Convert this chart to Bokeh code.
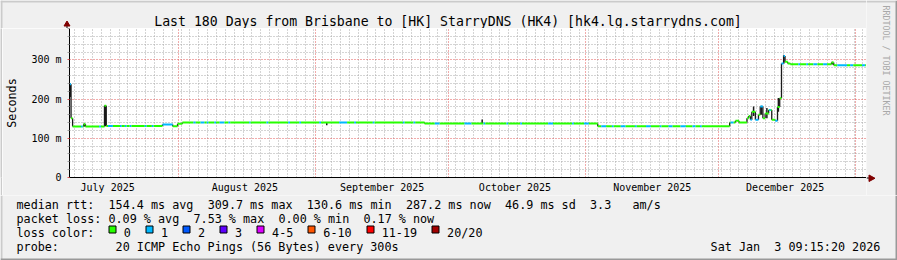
import math
import re
import numpy as np
import pandas as pd
from bokeh.plotting import figure
from bokeh.layouts import row, column
from bokeh.models import Range1d, FixedTicker
from bokeh.core.properties import value
from bokeh.embed import file_html
from bokeh.resources import INLINE

# ---------------- data ----------------
window_start = "2025-07-07 09:15:20"   # left edge of the 180-day window
window_days = 180
data_end_day = 179.9

# median RTT step levels: day offset where each level starts, level in ms
median_start_day = [0.0, 0.35, 0.7, 3.2, 3.6, 7.9, 8.3, 21.0, 23.3, 24.4, 25.5, 80.2,
                    119.3, 149.1, 150.4, 151.2, 153.0, 153.4, 153.8, 154.1, 154.9,
                    155.6, 156.0, 156.6, 157.1, 157.9, 158.6, 159.4, 159.9, 160.4,
                    160.8, 161.3, 161.6, 162.2, 162.8, 172.1, 172.6]
median_rtt_ms = [238, 151, 130, 136, 130, 183, 131.5, 135, 131, 137, 140, 137.5,
                 131, 140, 145, 140, 151, 157, 147, 168, 147,
                 160, 181, 151, 163, 172, 147, 145, 180, 202,
                 291, 310, 295, 291, 289, 293, 286.5]

# periods where 1 of 20 pings was lost (drawn in the "1" loss colour)
loss1_start_day = [0.0, 2.6, 6.7, 8.7, 11.4, 12.5, 13.6, 17.0, 18.6, 21.0, 28.0, 29.6,
                   31.0, 32.7, 33.9, 35.9, 40.6, 44.5, 49.4, 51.9, 56.4, 60.9, 64.3,
                   68.5, 75.3, 77.7, 82.5, 89.2, 93.5, 98.7, 101.8, 108.1, 113.5,
                   116.2, 120.1, 122.5, 124.5, 127.7, 130.2, 133.3, 135.3, 138.0,
                   140.7, 142.4, 149.3, 153.8, 154.9, 156.0, 158.0, 159.4, 160.8,
                   164.6, 166.4, 168.0, 170.2, 173.4, 176.3, 179.0]
loss1_end_day = [0.35, 3.0, 7.1, 9.8, 11.8, 12.9, 14.0, 17.4, 19.0, 23.3, 28.5, 30.5,
                 31.4, 33.1, 35.0, 36.3, 40.9, 44.9, 49.8, 52.3, 56.8, 62.7, 64.7,
                 68.9, 75.7, 78.1, 83.6, 90.8, 93.9, 99.1, 102.2, 109.2, 113.9,
                 117.3, 121.2, 122.9, 125.6, 128.1, 131.3, 133.7, 136.2, 139.2,
                 141.4, 142.8, 150.0, 154.1, 155.6, 156.6, 158.4, 159.9, 161.6,
                 165.0, 166.8, 168.9, 171.1, 175.6, 177.0, 179.7]

# smoke (spread of the 20 pings) where it shows beyond the median line
smoke_day = [0.17, 3.4, 8.1, 58.1, 93.2, 154.5, 156.3, 157.5, 160.1, 161.3, 172.3]
smoke_lo_ms = [205, 130, 131, 133, 137, 157, 160, 151, 168, 291, 288]
smoke_hi_ms = [240, 138, 185, 141, 148, 181, 183, 177, 203, 312, 295]

month_starts = ["2025-08-01", "2025-09-01", "2025-10-01", "2025-11-01",
                "2025-12-01", "2026-01-01"]
month_label_dates = ["2025-07-16", "2025-08-16", "2025-09-16", "2025-10-16",
                     "2025-11-16", "2025-12-16"]
month_labels = ["July 2025", "August 2025", "September 2025", "October 2025",
                "November 2025", "December 2025"]

y_ticks = [0, 100, 200, 300]
y_tick_labels = ["0", "100 m", "200 m", "300 m"]

title_text = "Last 180 Days from Brisbane to [HK] StarryDNS (HK4) [hk4.lg.starrydns.com]"
legend_median = "median rtt:  154.4 ms avg  309.7 ms max  130.6 ms min  287.2 ms now  46.9 ms sd  3.3   am/s"
legend_loss = "packet loss: 0.09 % avg  7.53 % max  0.00 % min  0.17 % now"
legend_color_title = "loss color:"
loss_labels = ["0", "1", "2", "3", "4-5", "6-10", "11-19", "20/20"]
loss_colors = ["#26ff00", "#00b8ff", "#0059ff", "#5e00ff", "#dd00ff", "#ff5500",
               "#ff0000", "#a00000"]
probe_text = "probe:        20 ICMP Echo Pings (56 Bytes) every 300s"
stamp_text = "Sat Jan  3 09:15:20 2026"
watermark_text = "RRDTOOL / TOBI OETIKER"

# ---------------- helpers ----------------
t0 = pd.Timestamp(window_start)


def to_ms(day):
    return (t0 + pd.to_timedelta(float(day), unit="D")).value / 1e6


def date_ms(s):
    return pd.Timestamp(s).value / 1e6


FONT = "DejaVu Sans Mono"
BACK = "#f0f0f0"
SHADE_A = "#cbcbcb"
SHADE_B = "#999999"
ARROW = "#800000"
LEG_SIZE = 11.76
ADV = 7.08                 # advance of one monospace character at LEG_SIZE


def deco_fig(x0, x1, y0, y1):
    """A plain canvas piece whose coordinates are the page pixels it covers."""
    f = figure(width=x1 - x0, height=y1 - y0, x_range=Range1d(x0, x1),
               y_range=Range1d(y1, y0), output_backend="svg", toolbar_location=None,
               x_axis_location=None, y_axis_location=None,
               min_border=0, min_border_left=0, min_border_right=0,
               min_border_top=0, min_border_bottom=0)
    f.grid.visible = False
    f.background_fill_color = BACK
    f.border_fill_color = BACK
    f.outline_line_color = None
    return f


def put_text(f, xs, ys, texts, size, align="left", color="black", angle=0.0,
             baseline="alphabetic"):
    f.text(x=xs, y=ys, text=texts, text_font=value(FONT),
           text_font_size=value(f"{size}px"), text_color=color, text_align=align,
           text_baseline=baseline, angle=angle)


def mono_line(f, s, x0, y):
    """Lay a monospace legend line out piece by piece so runs of spaces survive."""
    xs, toks = [], []
    for m in re.finditer(r"\S+(?: \S+)*", s):
        toks.append(m.group())
        xs.append(x0 + m.start() * ADV)
    put_text(f, xs, [y] * len(xs), toks, LEG_SIZE)


# ---------------- head strip: title + y-axis arrow ----------------
head = deco_fig(0, 866, 0, 28)
head.quad(left=[0, 0], right=[866, 2], top=[0, 0], bottom=[2, 28],
          fill_color=SHADE_A, line_color=None)
put_text(head, [447.5], [21], [title_text], 13.2, align="center")
head.segment(x0=[66.5], y0=[25], x1=[66.5], y1=[28], line_color="black", line_width=1)
head.patch(x=[63.5, 69.5, 66.5], y=[25.5, 25.5, 20.5], fill_color=ARROW,
           line_color=ARROW, line_width=1)

# ---------------- left bevel next to the main plot ----------------
lbev = figure(width=2, height=167, output_backend="svg", toolbar_location=None,
              x_axis_location=None, y_axis_location=None, min_border=0,
              min_border_left=0, min_border_right=0, min_border_top=0,
              min_border_bottom=0)
lbev.grid.visible = False
lbev.background_fill_color = SHADE_A
lbev.border_fill_color = SHADE_A
lbev.outline_line_color = None

# ---------------- main plot ----------------
p = figure(width=864, height=167, x_axis_type="datetime",
           x_range=Range1d(to_ms(0), to_ms(window_days)), y_range=Range1d(0, 380),
           output_backend="svg", toolbar_location=None,
           min_border_left=64, min_border_right=0, min_border_top=0,
           min_border_bottom=17)
p.background_fill_color = "white"
p.border_fill_color = BACK
p.outline_line_color = None

xa = p.xaxis[0]
label_ms = [date_ms(d) for d in month_label_dates]
xa.ticker = FixedTicker(ticks=label_ms, minor_ticks=[])
xa.major_label_overrides = {t: lab for t, lab in zip(label_ms, month_labels)}
xa.major_tick_line_color = None
xa.minor_tick_line_color = None
xa.major_tick_out = 0
xa.major_tick_in = 0
xa.major_label_standoff = 4
xa.major_label_text_font = FONT
xa.major_label_text_font_size = "10px"
xa.major_label_text_color = "black"
xa.axis_line_color = "black"

ya = p.yaxis[0]
y_minor = [v for v in range(20, 381, 20) if v % 100 != 0]
ya.ticker = FixedTicker(ticks=y_ticks, minor_ticks=y_minor)
ya.major_label_overrides = {t: lab for t, lab in zip(y_ticks, y_tick_labels)}
ya.major_tick_out = 2
ya.major_tick_in = 0
ya.minor_tick_out = 2
ya.minor_tick_in = 0
ya.major_tick_line_color = "#de5050"
ya.minor_tick_line_color = "#a0a0a0"
ya.major_label_standoff = 6
ya.major_label_text_font = FONT
ya.major_label_text_font_size = "10px"
ya.major_label_text_color = "black"
ya.axis_line_color = "black"
ya.axis_label = "Seconds"
ya.axis_label_text_font = FONT
ya.axis_label_text_font_size = "11.76px"
ya.axis_label_text_font_style = "normal"
ya.axis_label_text_color = "black"
ya.axis_label_standoff = 9

month_ms = [date_ms(d) for d in month_starts]
minor_x = [to_ms(d) for d in np.arange(1.2, window_days, 2.0)]
p.xgrid.ticker = FixedTicker(ticks=month_ms, minor_ticks=minor_x)
for g in (p.xgrid[0], p.ygrid[0]):
    g.grid_line_color = "#e04848"
    g.grid_line_alpha = 0.9
    g.grid_line_dash = "1 2"
    g.minor_grid_line_color = "#a8a8a8"
    g.minor_grid_line_alpha = 1.0
    g.minor_grid_line_dash = "1 2"

# smoke spikes
p.segment(x0=[to_ms(d) for d in smoke_day], y0=smoke_lo_ms,
          x1=[to_ms(d) for d in smoke_day], y1=smoke_hi_ms,
          line_color="#1a1a1a", line_width=1.5)

# vertical steps between median levels (dark smoke at changes)
cx = [to_ms(d) for d in median_start_day[1:]]
p.segment(x0=cx, y0=median_rtt_ms[:-1], x1=cx, y1=median_rtt_ms[1:],
          line_color="#1a1a1a", line_width=1.3)

# median line coloured by packet loss
bounds = sorted(set(median_start_day + [data_end_day] + loss1_start_day + loss1_end_day))
bounds = [b for b in bounds if 0 <= b <= data_end_day]
sx0, sx1, sy, sc = [], [], [], []
for a, b in zip(bounds[:-1], bounds[1:]):
    mid = 0.5 * (a + b)
    i = int(np.searchsorted(median_start_day, mid, side="right")) - 1
    lossy = any(s <= mid < e for s, e in zip(loss1_start_day, loss1_end_day))
    sx0.append(to_ms(a))
    sx1.append(to_ms(b))
    sy.append(median_rtt_ms[i])
    sc.append(loss_colors[1] if lossy else loss_colors[0])
p.segment(x0=sx0, y0=sy, x1=sx1, y1=sy, line_color=sc, line_width=2)

# ---------------- right strip: x-axis arrow + watermark ----------------
strip = deco_fig(866, 897, 0, 195)
strip.quad(left=[866, 895], right=[895, 897], top=[0, 0], bottom=[2, 195],
           fill_color=[SHADE_A, SHADE_B], line_color=None)
strip.segment(x0=[866], y0=[177.5], x1=[869], y1=[177.5], line_color="black", line_width=1)
strip.patch(x=[868.5, 868.5, 874.5], y=[174.5, 181.0, 177.75], fill_color=ARROW,
            line_color=ARROW, line_width=1)
put_text(strip, [885.5], [5], [watermark_text], 8.3, color="#a8a8a8",
         angle=-math.pi / 2, baseline="middle")

# ---------------- legend block ----------------
leg = deco_fig(0, 897, 195, 260)
leg.quad(left=[0, 895, 0], right=[2, 897, 897], top=[195, 195, 258],
         bottom=[260, 260, 260], fill_color=[SHADE_A, SHADE_B, SHADE_B], line_color=None)
mono_line(leg, legend_median, 16, 204)
mono_line(leg, legend_loss, 16, 218)
mono_line(leg, legend_color_title, 16, 232)
mono_line(leg, probe_text, 16, 246)
mono_line(leg, stamp_text, 880 - len(stamp_text) * ADV, 246)
sq_left, lab_x = [], []
x = 108.3
for lab in loss_labels:
    sq_left.append(math.floor(x) + 0.5)
    lab_x.append(x + 15)
    x = x + 15 + len(lab) * ADV + 15
leg.quad(left=sq_left, right=[s + 7 for s in sq_left], top=[225.5] * len(sq_left),
         bottom=[232.5] * len(sq_left), fill_color=loss_colors, line_color="black",
         line_width=1)
put_text(leg, lab_x, [232] * len(lab_x), loss_labels, LEG_SIZE)

upper = row(column(head, row(lbev, p, spacing=0), spacing=0), strip, spacing=0)
page = column(upper, leg, spacing=0)

open("out.html", "w").write(file_html(page, INLINE))
